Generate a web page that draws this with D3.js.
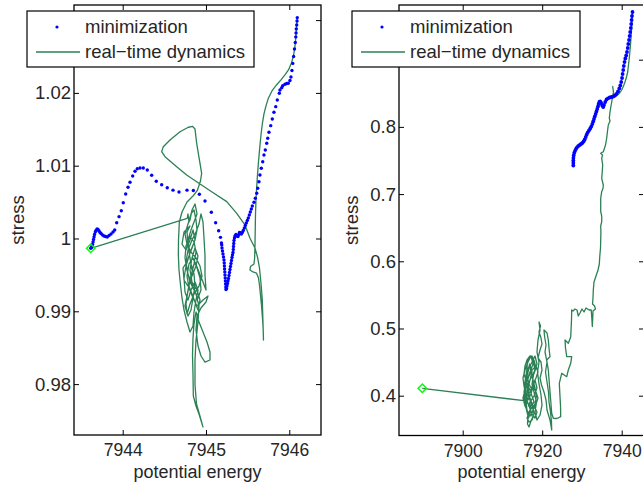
<!DOCTYPE html>
<html><head><meta charset="utf-8">
<script src="https://cdn.jsdelivr.net/npm/d3@7/dist/d3.min.js"></script>
<style>body{margin:0;background:#fff}svg{display:block}text{font-family:"Liberation Sans",Arial,Helvetica,sans-serif;fill:#262626}</style>
</head><body><svg id="c" width="643" height="485"></svg>
<script>
// ---------- Left panel data ----------
const leftXTicks = [7944, 7945, 7946];
const leftYTicks = [0.98, 0.99, 1, 1.01, 1.02, 1.03];
const leftYLabels = ["0.98", "0.99", "1", "1.01", "1.02", "1.03"];
const leftMinE = [7946.096,7946.093,7946.089,7946.084,7946.081,7946.078,7946.072,7946.062,7946.052,7946.042,7946.032,7946.020,7946.008,7945.988,7945.969,7945.948,7945.921,7945.909,7945.888,7945.880,7945.856,7945.837,7945.816,7945.796,7945.777,7945.756,7945.741,7945.729,7945.712,7945.696,7945.681,7945.664,7945.648,7945.636,7945.621,7945.609,7945.592,7945.576,
7945.556,7945.544,7945.532,7945.520,7945.508,7945.496,7945.484,7945.472,7945.460,7945.448,7945.436,7945.424,7945.414,7945.402,7945.394,7945.384,7945.372,7945.360,7945.348,7945.342,7945.336,7945.333,7945.330,7945.328,7945.324,7945.318,7945.312,7945.306,7945.300,7945.294,7945.288,7945.282,7945.276,7945.270,7945.264,7945.258,7945.252,7945.246,7945.240,7945.238,7945.235,7945.233,7945.231,7945.228,7945.226,7945.223,7945.221,7945.219,7945.216,7945.210,7945.204,7945.198,7945.192,7945.189,7945.186,
7945.174,7945.152,7945.116,7945.064,7944.988,7944.920,7944.848,7944.772,7944.676,7944.604,7944.535,7944.468,7944.403,7944.348,7944.295,7944.247,7944.208,7944.175,7944.148,7944.120,7944.088,7944.064,7944.036,7944.007,7943.983,7943.956,7943.928,
7943.904,7943.884,7943.860,7943.836,7943.815,7943.794,7943.776,7943.758,7943.740,7943.728,7943.716,7943.704,7943.692,7943.680,7943.671,7943.662,7943.656,7943.650,7943.644,7943.638,7943.632,7943.623,7943.616];
const leftMinS = [1.03034,1.02988,1.02933,1.02879,1.02824,1.02769,1.02693,1.02604,1.02501,1.02405,1.02308,1.02219,1.02171,1.02132,1.02130,1.02119,1.02099,1.02072,1.02040,1.01995,1.01903,1.01811,1.01734,1.01642,1.01550,1.01459,1.01377,1.01308,1.01216,1.01147,1.01055,1.00965,1.00872,1.00780,1.00690,1.00621,1.00552,1.00497,
1.00447,1.00405,1.00364,1.00323,1.00282,1.00247,1.00213,1.00179,1.00144,1.00110,1.00082,1.00062,1.00076,1.00082,1.00055,1.00027,1.00034,1.00055,1.00034,1.00007,0.99973,0.99931,0.99890,0.99849,0.99808,0.99773,0.99739,0.99698,0.99657,0.99615,0.99574,0.99533,0.99492,0.99450,0.99416,0.99382,0.99347,0.99313,0.99299,0.99334,0.99375,0.99416,0.99457,0.99498,0.99540,0.99581,0.99622,0.99663,0.99705,0.99746,0.99787,0.99828,0.99869,0.99911,0.99938,
1.00016,1.00107,1.00217,1.00360,1.00515,1.00607,1.00660,1.00664,1.00639,1.00664,1.00698,1.00739,1.00786,1.00868,1.00941,1.00969,1.00969,1.00959,1.00923,1.00859,1.00772,1.00703,1.00611,1.00492,1.00382,1.00300,1.00217,
1.00117,1.00089,1.00062,1.00041,1.00021,1.00027,1.00034,1.00048,1.00069,1.00082,1.00103,1.00124,1.00131,1.00110,1.00089,1.00055,1.00021,0.99986,0.99952,0.99918,0.99897,0.99876,0.99865];
const leftDynE = [7946.096,7946.086,7946.078,7946.066,7946.050,7946.026,7945.990,7945.948,7945.900,7945.846,7945.792,7945.750,7945.720,7945.696,7945.676,7945.660,7945.645,7945.630,7945.618,7945.608,7945.600,7945.594,7945.591,7945.588,7945.584,7945.576,7945.534,7945.528,7945.564,7945.606,7945.630,7945.642,7945.654,7945.666,7945.678,7945.687,7945.690,
7945.684,7945.676,7945.660,7945.642,7945.618,7945.588,7945.528,7945.468,7945.369,7945.249,7945.068,7944.888,7944.768,7944.648,7944.508,7944.468,7944.487,7944.568,7944.688,7944.788,7944.840,7944.868,7944.888,7944.928,7944.948,7944.934,7944.910,7944.892,
7944.844,7944.772,7944.712,7944.680,7944.670,7944.668,7944.676,7944.694,7944.712,7944.736,7944.772,7944.808,7944.844,7944.856,
7944.880,7944.904,7944.868,7944.820,7944.784,7944.748,7944.736,7944.760,7944.796,7944.832,7944.868,7944.892,7944.880,7944.856,7944.820,7944.784,7944.748,7944.772,7944.820,7944.880,7944.928,7944.952,7944.916,7944.856,7944.808,7944.772,7944.760,7944.784,7944.820,7944.856,7944.880,7944.856,7944.808,7944.760,7944.748,7944.772,7944.808,7944.856,7944.904,7944.940,7944.928,7944.892,7944.844,7944.796,7944.772,7944.796,7944.844,7944.892,7944.964,7945.024,7945.000,7944.940,7944.892,7944.880,7944.904,7944.940,7944.988,7945.048,7945.048,7945.012,7944.964,7944.916,7944.880,7944.856,7944.844,7944.838,7944.844,7944.848,7944.880,7944.916,7944.964,7944.928,7944.886,7944.868,7944.868,7944.880,7944.904,7944.916,7944.880,7944.832,7944.784,7944.760,7944.784,7944.832,7944.880,7944.916,7944.940,7944.964,7944.976,7944.988,7944.988,7945.000,7944.964,7944.916,7944.868,7944.832,7944.808,7944.784,7944.772,
7944.808,7944.736,7944.712,7944.760,7944.808,7944.844,7944.868,7944.820,7944.772,7944.724,7944.736,7944.784,7944.832,7944.880,7944.904,7944.868,7944.832,7944.808,7944.832,7944.892,7944.928,7944.904,7944.868,7944.832,7944.796,7944.772,7944.748,7944.784,7944.820,7944.844,7944.868,7944.856,7944.820,7944.796,7944.784,7944.820,7944.856,7944.892,7944.868,7944.832,7944.808,
7944.796,7944.784,7944.775,7943.616];
const leftDynS = [1.03034,1.02892,1.02755,1.02618,1.02508,1.02411,1.02315,1.02247,1.02178,1.02109,1.02027,1.01931,1.01821,1.01711,1.01573,1.01422,1.01244,1.01051,1.00873,1.00694,1.00529,1.00323,1.00117,0.99911,0.99732,0.99650,0.99615,0.99567,0.99540,0.99526,0.99457,0.99361,0.99224,0.99086,0.98908,0.98743,0.98605,
0.98853,0.99155,0.99389,0.99595,0.99746,0.99870,1.00003,1.00186,1.00346,1.00506,1.00643,1.00780,1.00873,1.00987,1.01124,1.01193,1.01261,1.01353,1.01467,1.01528,1.01539,1.01505,1.01308,1.01033,1.00896,1.00790,1.00708,1.00653,
1.00584,1.00502,1.00364,1.00227,0.99979,0.99773,0.99567,0.99361,0.99183,0.99018,0.98853,0.98715,0.98798,0.98990,
0.99155,0.99292,0.99402,0.99292,0.99155,0.99265,0.99457,0.99622,0.99760,0.99870,0.99979,1.00117,1.00254,1.00392,1.00337,1.00199,1.00062,0.99924,0.99815,0.99732,0.99622,0.99485,0.99347,0.99237,0.99100,0.98963,0.99100,0.99292,0.99485,0.99650,0.99815,0.99952,1.00034,0.99897,0.99732,0.99567,0.99402,0.99292,0.99183,0.99292,0.99457,0.99595,0.99732,0.99650,0.99485,0.99320,0.99183,0.99073,0.99155,0.99210,0.99128,0.99045,0.98935,0.98743,0.98523,0.98386,0.98303,0.98331,0.98441,0.98578,0.98715,0.98853,0.98990,0.98825,0.98633,0.98399,0.98125,0.97836,0.97699,0.97589,0.97410,0.97561,0.97726,0.97987,0.98331,0.98605,0.98853,0.99073,0.99237,0.99375,0.99512,0.99677,0.99842,0.99979,1.00089,1.00199,1.00337,1.00227,1.00007,0.99760,0.99499,0.99292,0.99402,0.99540,0.99677,0.99567,0.99732,0.99924,1.00089,
1.00172,1.00089,0.99924,0.99842,0.99979,1.00117,0.99979,0.99842,0.99677,0.99595,0.99430,0.99347,0.99485,0.99622,0.99760,0.99870,0.99732,0.99567,0.99402,0.99292,0.99155,0.99018,0.99128,0.99237,0.99347,0.99210,0.99073,0.98935,0.99018,0.99183,0.99347,0.99512,0.99650,0.99815,0.99979,1.00117,1.00227,1.00337,1.00474,1.00392,1.00254,
1.00227,1.00337,1.00278,0.99865];
const leftEnd = [7943.616, 0.99865];

// ---------- Right panel data ----------
const rightXTicks = [7900, 7920, 7940];
const rightYTicks = [0.4, 0.5, 0.6, 0.7, 0.8, 0.9];
const rightYLabels = ["0.4", "0.5", "0.6", "0.7", "0.8", "0.9"];
const rightMinE = [7942.72,7942.59,7942.49,7942.39,7942.29,7942.14,7941.99,7941.84,7941.66,7941.51,7941.33,7941.13,7940.91,7940.71,7940.53,7940.38,7940.23,7940.08,7939.88,7939.65,7939.40,7939.07,7938.69,7938.32,7937.89,7937.44,7936.98,7936.56,7936.18,7935.85,7935.55,7935.35,7935.10,7934.84,7934.59,7934.37,7934.19,7934.04,7933.84,7933.64,7933.44,7933.23,7933.03,7932.83,7932.61,7932.35,7932.08,7931.78,7931.47,7931.20,7930.95,7930.69,7930.42,7930.09,7929.76,7929.44,7929.08,7928.76,7928.50,7928.25,7928.05,7927.93,7927.85,7927.83,7927.83,7927.83];
const rightMinS = [0.97094,0.96499,0.95904,0.95309,0.94714,0.94118,0.93523,0.92928,0.92333,0.91738,0.91142,0.90622,0.90175,0.89654,0.89059,0.88464,0.87869,0.87274,0.86678,0.86158,0.85711,0.85265,0.84893,0.84670,0.84521,0.84446,0.84372,0.84253,0.84074,0.83702,0.83256,0.82958,0.83182,0.83554,0.83777,0.83702,0.83405,0.83033,0.82661,0.82289,0.81917,0.81545,0.81173,0.80801,0.80429,0.80057,0.79759,0.79491,0.79194,0.78866,0.78494,0.78122,0.77825,0.77602,0.77453,0.77304,0.77155,0.76962,0.76709,0.76411,0.76114,0.75742,0.75370,0.74998,0.74626,0.74254];
const rightDynE = [7942.72,7942.54,7942.34,7942.14,7941.91,7941.71,7941.51,7941.21,7940.83,7940.45,7940.00,7939.57,7939.15,7938.57,7938.06,7937.89,7937.74,7937.94,7937.69,7937.49,7937.26,7937.06,7936.88,7937.06,7936.63,7936.43,7936.23,7935.93,7935.37,7934.72,7935.17,7934.97,7935.22,7935.10,7934.97,7935.37,7935.30,7934.97,7934.72,7934.72,7934.72,7934.97,7934.97,7934.72,7934.77,7934.72,7934.67,7934.49,7934.37,7934.04,7933.54,7933.03,7932.86,7932.78,7932.66,7933.16,7933.41,7932.78,7932.71,7932.61,7932.48,7932.33,7931.78,7931.02,7930.52,7930.01,7929.51,7929.08,7928.76,7928.25,7927.75,7927.42,7927.37,7927.25,7927.17,7926.57,7925.74,7925.86,7926.17,7927.42,7927.17,7926.57,7926.17,7924.91,7924.30,7924.48,7924.61,7924.66,7923.72,7922.79,7922.39,7922.09,7921.79,7921.54,7921.13,7921.96,7921.71,7921.54,7921.21,7920.45,7920.58,7920.96,7920.71,7921.21,7920.83,7921.21,7921.59,7921.71,7922.09,7922.34,7922.39,7921.96,7921.21,7920.96,7920.45,7919.83,7919.45,7919.95,7919.70,7918.94,7919.45,7919.95,7919.70,7919.20,7919.57,7919.20,7919.45,7918.94,7918.69,7919.20,7918.82,7919.20,7919.70,7919.95,7919.45,7918.69,7918.19,7918.57,7917.94,7917.44,7917.81,7918.44,7917.94,7917.44,7916.68,7916.30,7916.13,7915.80,7915.55,7915.67,7915.93,7916.18,7916.55,7916.93,7917.18,7916.68,7916.43,7916.93,7917.44,7916.93,7916.18,7915.93,7916.43,7916.93,7917.56,7917.94,7917.18,7916.68,7916.30,7916.43,7916.05,7915.67,7915.42,7915.55,7915.93,7916.43,7916.81,7917.18,7917.69,7918.19,7918.57,7918.19,7917.44,7916.55,
7916.93,7917.94,7918.69,7918.19,7917.44,7916.68,7916.18,7916.68,7917.44,7918.19,7918.69,7917.94,7917.18,7916.43,7915.67,7915.17,7915.67,7916.43,7917.18,7917.69,7918.44,7918.94,7918.44,7917.69,7917.18,7916.43,7915.93,7915.42,7915.17,7915.67,7916.43,7917.18,7917.69,7916.93,7916.18,7915.67,7916.18,7916.93,7917.69,7918.44,7918.94,7918.44,7917.44,7916.68,7915.93,7915.42,7915.93,7916.68,7917.44,7918.19,7918.69,7917.94,7916.93,7916.18,7916.68,7917.44,7917.94,7917.44,7916.68,7916.18,7916.68,7917.44,7918.19,7917.69,7916.93,7916.18,7915.67,7915.42,7915.93,7916.68,7917.44,7917.94,7917.18,7916.43,
7915.93,7915.42,7889.84];
const rightDynS = [0.97094,0.95160,0.93226,0.91738,0.90250,0.89208,0.88166,0.87422,0.86678,0.86083,0.85488,0.85116,0.84848,0.84670,0.84491,0.85339,0.86009,0.85190,0.84446,0.83702,0.82958,0.82214,0.81322,0.80875,0.80280,0.79387,0.78346,0.77304,0.76307,0.76069,0.75816,0.75325,0.74328,0.73286,0.72349,0.71352,0.70861,0.70355,0.69373,0.68376,0.67379,0.66739,0.65891,0.65251,0.64358,0.63168,0.61978,0.60787,0.59597,0.58704,0.57811,0.56918,0.55728,0.54538,0.53645,0.53347,0.52901,0.52603,0.51562,0.50297,0.51562,0.52752,0.52752,0.53050,0.52454,0.52901,0.52306,0.51859,0.52752,0.52901,0.52603,0.52752,0.51264,0.49776,0.48734,0.47797,0.48288,0.47098,0.45803,0.45803,0.44821,0.43824,0.42827,0.43333,0.41845,0.39851,0.38467,0.36875,0.36607,0.36637,0.37381,0.39658,0.41845,0.43824,0.45312,0.45803,0.47098,0.48288,0.49330,0.49776,0.48883,0.47544,0.46502,0.45014,0.43526,0.42038,0.40550,0.39062,0.37574,0.36086,0.34896,0.36384,0.37872,0.39360,0.40550,0.41592,0.42634,0.43824,0.45014,0.45610,0.46800,0.47693,0.48586,0.49478,0.50371,0.50966,0.49776,0.48288,0.46502,0.45014,0.43526,0.41741,0.40104,0.38616,0.37128,0.36384,0.37574,0.39062,0.40550,0.41741,0.43080,0.44122,0.45312,0.45907,0.45758,0.45014,0.43824,0.42634,0.41443,0.40253,0.39062,0.37872,0.36682,0.37277,0.38765,0.39955,0.41146,0.42336,0.43526,0.44568,0.43824,0.42336,0.40848,0.39658,0.38616,0.37277,0.36235,0.35342,0.35789,0.36979,0.37872,0.39062,0.39955,0.41146,0.42336,0.43526,0.44717,0.43526,0.42336,0.41146,0.39955,0.38765,0.38170,0.38467,
0.39062,0.39955,0.41146,0.42336,0.40848,0.41741,0.42931,0.44122,0.45014,0.45907,0.44717,0.43526,0.42634,0.41741,0.40848,0.39658,0.38467,0.37574,0.36979,0.37872,0.38765,0.39658,0.40550,0.41443,0.40253,0.39360,0.40253,0.41443,0.42634,0.43824,0.45014,0.45907,0.44717,0.43526,0.42336,0.41146,0.39955,0.40550,0.41741,0.42634,0.43526,0.44419,0.43824,0.42931,0.41741,0.40550,0.39658,0.38467,0.37277,0.36682,0.37574,0.38467,0.37872,0.36682,0.36086,0.36384,0.37277,0.38765,0.39658,0.40848,0.42038,0.42931,0.43824,0.45312,0.45907,0.45312,0.44419,0.43229,0.42336,0.41146,0.39955,0.39062,0.38467,0.38765,
0.39256,0.39256,0.41101];
const rightEnd = [7889.84, 0.41101];

const legendLabels = ["minimization", "real\u2212time dynamics"];
const BLUE = "#0000ff", GREEN = "#2b8054", DIAMOND = "#00ff00";

const svg = d3.select("#c");
const FS = 18.5, TFS = 17.5, LFS = 18;

function panel(cfg) {
  const {l, r, t, b, xDom, yDom, xTicks, yTicks, yLabels, minE, minS, dynE, dynS, end, leg, yLabX, dotR} = cfg;
  const x = d3.scaleLinear().domain(xDom).range([l, r]);
  const y = d3.scaleLinear().domain(yDom).range([b, t]);
  const id = "clip" + l;
  svg.append("clipPath").attr("id", id).append("rect").attr("x", l).attr("y", t).attr("width", r - l).attr("height", b - t);
  const g = svg.append("g");
  const plot = g.append("g").attr("clip-path", `url(#${id})`);
  const line = d3.line().x(d => x(d[0])).y(d => y(d[1]));
  const dyn = dynE.map((e, i) => [e, dynS[i]]);
  plot.append("path").attr("d", line(dyn)).attr("fill", "none").attr("stroke", GREEN).attr("stroke-width", 1.3).attr("stroke-linejoin", "round");
  const mins = minE.map((e, i) => [e, minS[i]]);
  plot.selectAll("circle.m").data(mins).enter().append("circle").attr("class", "m")
    .attr("cx", d => x(d[0])).attr("cy", d => y(d[1])).attr("r", dotR).attr("fill", BLUE);
  plot.append("path").attr("d", d3.symbol().type(d3.symbolSquare).size(36)())
    .attr("transform", `translate(${x(end[0])},${y(end[1])}) rotate(45)`)
    .attr("fill", "none").attr("stroke", DIAMOND).attr("stroke-width", 1.4);

  const ax = g.append("g");
  ax.append("g").attr("class", "xb").attr("transform", `translate(0,${b})`)
    .call(d3.axisBottom(x).tickValues(xTicks).tickSize(-5).tickPadding(9).tickFormat(d => String(d)));
  ax.append("g").attr("transform", `translate(0,${t})`)
    .call(d3.axisTop(x).tickValues(xTicks).tickSize(-5).tickFormat(""));
  ax.append("g").attr("class", "yl").attr("transform", `translate(${l},0)`)
    .call(d3.axisLeft(y).tickValues(yTicks).tickSize(-5).tickPadding(3).tickFormat((d, i) => yLabels[i]));
  ax.append("g").attr("transform", `translate(${r},0)`)
    .call(d3.axisRight(y).tickValues(yTicks).tickSize(-5).tickFormat(""));
  ax.selectAll(".domain").remove();
  ax.selectAll(".tick line").attr("stroke", "#000").attr("stroke-width", 1);
  ax.selectAll(".xb text").attr("font-size", TFS);
  ax.selectAll(".yl text").attr("font-size", FS);
  ax.selectAll("text").attr("font-family", null).style("fill", "#262626");
  g.append("rect").attr("x", l).attr("y", t).attr("width", r - l).attr("height", b - t)
    .attr("fill", "none").attr("stroke", "#000").attr("stroke-width", 1.3);

  g.append("text").attr("x", (l + r) / 2).attr("y", 477.5).attr("text-anchor", "middle").attr("font-size", LFS).text("potential energy");
  g.append("text").attr("transform", `translate(${yLabX},${(t + b) / 2}) rotate(-90)`).attr("text-anchor", "middle").attr("font-size", FS).text("stress");

  const lg = g.append("g");
  lg.append("rect").attr("x", leg[0]).attr("y", 11).attr("width", leg[1] - leg[0]).attr("height", 56)
    .attr("fill", "#fff").attr("stroke", "#000").attr("stroke-width", 1.2);
  lg.append("circle").attr("cx", leg[0] + 30).attr("cy", 27).attr("r", 1.6).attr("fill", BLUE);
  lg.append("line").attr("x1", leg[0] + 9).attr("x2", leg[0] + 53).attr("y1", 52).attr("y2", 52).attr("stroke", GREEN).attr("stroke-width", 1.3);
  lg.append("text").attr("x", leg[0] + 58).attr("y", 33).attr("font-size", FS).text(legendLabels[0]);
  lg.append("text").attr("x", leg[0] + 58).attr("y", 58).attr("font-size", FS).text(legendLabels[1]);
}

panel({l: 74, r: 321, t: 5, b: 435, xDom: [7943.4154, 7946.3806], yDom: [0.973008, 1.032074],
  xTicks: leftXTicks, yTicks: leftYTicks, yLabels: leftYLabels,
  minE: leftMinE, minS: leftMinS, dynE: leftDynE, dynS: leftDynS, end: leftEnd, leg: [27, 254], yLabX: 23.5, dotR: 1.7});
panel({l: 399, r: 644, t: 5, b: 435.5, xDom: [7883.975, 7945.61], yDom: [0.34078, 0.98136],
  xTicks: rightXTicks, yTicks: rightYTicks, yLabels: rightYLabels,
  minE: rightMinE, minS: rightMinS, dynE: rightDynE, dynS: rightDynS, end: rightEnd, leg: [352, 580], yLabX: 357.5, dotR: 1.9});
</script></body></html>
